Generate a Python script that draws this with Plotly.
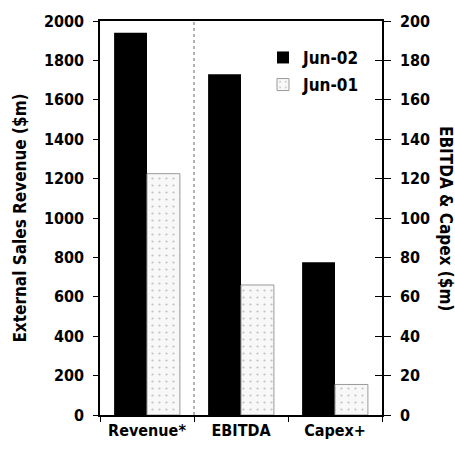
import plotly.graph_objects as go

# Category labels and values ($m)
categories = ["Revenue*", "EBITDA", "Capex+"]
revenue_jun02 = [1940]
revenue_jun01 = [1225]
ebitda_capex_cats = ["EBITDA", "Capex+"]
ebitda_capex_jun02 = [173, 77.5]
ebitda_capex_jun01 = [66, 15.5]
left_ticks = [0, 200, 400, 600, 800, 1000, 1200, 1400, 1600, 1800, 2000]
right_ticks = [0, 20, 40, 60, 80, 100, 120, 140, 160, 180, 200]

FONT = "DejaVu Sans Condensed, DejaVu Sans, sans-serif"
BAR_W = 0.35

def bold(size):
    return dict(size=size, family=FONT, weight="bold", color="#000000")

dark = dict(color="#000000", line=dict(color="#000000", width=0))
light = dict(
    color="#f8f8f8",
    line=dict(color="#9a9a9a", width=1),
    pattern=dict(shape=".", fgcolor="#8a8a8a", bgcolor="#f8f8f8", size=7, solidity=0.08),
)

fig = go.Figure()
fig.add_trace(go.Bar(x=categories[:1], y=revenue_jun02, name="Jun-02", marker=dark,
                     width=BAR_W, offset=-BAR_W, legendgroup="a", yaxis="y"))
fig.add_trace(go.Bar(x=categories[:1], y=revenue_jun01, name="Jun-01", marker=light,
                     width=BAR_W, offset=0, legendgroup="b", yaxis="y"))
fig.add_trace(go.Bar(x=ebitda_capex_cats, y=ebitda_capex_jun02, name="Jun-02", marker=dark,
                     width=BAR_W, offset=-BAR_W, legendgroup="a", showlegend=False, yaxis="y2"))
fig.add_trace(go.Bar(x=ebitda_capex_cats, y=ebitda_capex_jun01, name="Jun-01", marker=light,
                     width=BAR_W, offset=0, legendgroup="b", showlegend=False, yaxis="y2"))
# Invisible point so the inside-tick overlay axis gets drawn
fig.add_trace(go.Scatter(x=categories[:1], y=[0], yaxis="y3", mode="markers",
                         marker=dict(opacity=0), showlegend=False, hoverinfo="skip"))

fig.update_layout(
    width=455, height=454,
    margin=dict(l=100, r=73, t=19, b=39),
    paper_bgcolor="white", plot_bgcolor="white",
    font=bold(16),
    showlegend=True,
    legend=dict(x=0.578, y=0.952, xanchor="left", yanchor="top",
                bgcolor="rgba(0,0,0,0)", font=bold(17),
                tracegroupgap=2, itemwidth=30),
    xaxis=dict(categoryorder="array", categoryarray=categories,
               showline=True, linecolor="#000", linewidth=1.5, mirror=True,
               ticks="outside", tickson="boundaries", ticklen=5, tickcolor="#000",
               tickfont=bold(16), showgrid=False),
    yaxis=dict(range=[0, 2000], tickvals=left_ticks, showline=True, linecolor="#000",
               linewidth=1.5, ticks="outside", ticklen=5, tickcolor="#000",
               showgrid=False, zeroline=False, tickfont=bold(16),
               ticklabelstandoff=6,
               title=dict(text="External Sales Revenue ($m)", font=bold(17), standoff=13)),
    yaxis2=dict(range=[0, 200], tickvals=right_ticks, overlaying="y", side="right",
                showline=True, linecolor="#000", linewidth=1.5, ticks="outside", ticklen=7,
                tickcolor="#000", showgrid=False, zeroline=False,
                tickfont=bold(16), ticklabelstandoff=6),
    yaxis3=dict(range=[0, 200], tickvals=right_ticks, overlaying="y", side="right",
                showline=False, ticks="inside", ticklen=7, tickcolor="#000",
                showticklabels=False, showgrid=False, zeroline=False),
    annotations=[dict(text="EBITDA &amp; Capex ($m)", textangle=90, xref="paper", yref="paper",
                      x=1.0, y=0.5, xshift=76, showarrow=False, font=bold(17))],
    shapes=[dict(type="line", xref="x", yref="paper", x0=0.5, x1=0.5, y0=0, y1=1,
                 line=dict(color="#666", width=1, dash="dot"))],
)

fig.write_html("out.html")
